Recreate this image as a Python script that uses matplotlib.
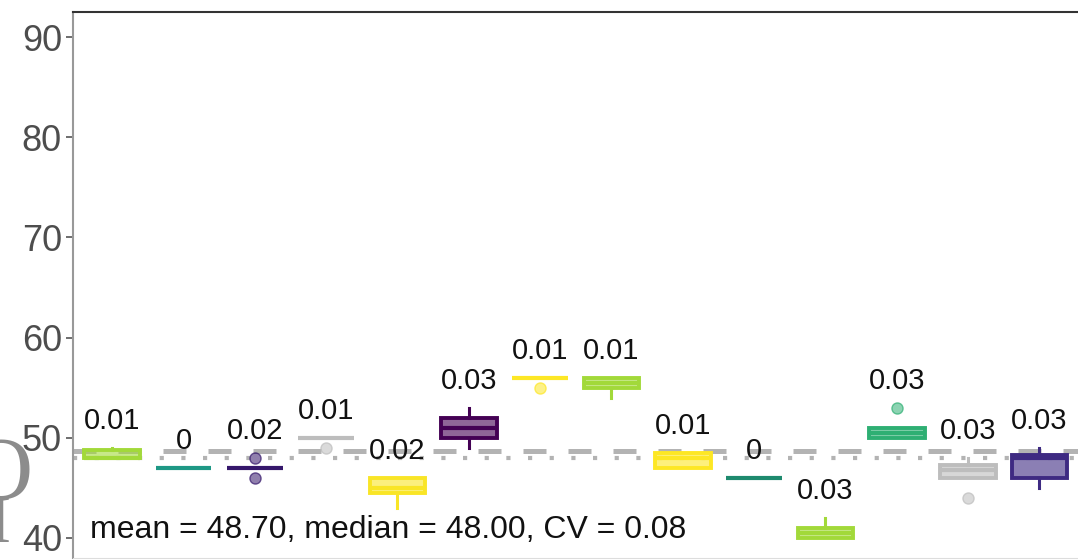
import matplotlib
matplotlib.use("Agg")
import matplotlib.pyplot as plt

plt.rcParams['font.family'] = ['Liberation Sans', 'DejaVu Sans']

# one box per group (summary stats)
positions = list(range(1, 15))
q1 = [48, 47, 47, 50, 44.5, 50, 56, 55, 47, 46, 40, 50, 46, 46]
med = [48, 47, 47, 50, 45, 51, 56, 55.5, 48, 46, 40.5, 50.5, 46.75, 48]
q3 = [48.75, 47, 47, 50, 46, 52, 56, 56, 48.5, 46, 41, 51, 47.25, 48.25]
whislo = [48, 47, 47, 50, 43, 49, 56, 54, 47, 46, 40, 50, 46, 45]
whishi = [49, 47, 47, 50, 46, 53, 56, 56, 48.5, 46, 42, 51, 48, 49]
fliers = [[], [], [48, 46], [49], [], [], [55], [], [], [], [], [53], [44], []]
cv_labels = ['0.01', '0', '0.02', '0.01', '0.02', '0.03', '0.01', '0.01',
             '0.01', '0', '0.03', '0.03', '0.03', '0.03']
colors = ['#a2d93a', '#1e9885', '#35176b', '#bdbdbd', '#f9e526', '#440154', '#fde725',
          '#a2d93a', '#fde725', '#1e8a6e', '#a2d93a', '#2eaf73', '#bdbdbd', '#3e2a82']

overall_mean = 48.70
overall_median = 48.00
overall_cv = 0.08

fig = plt.figure(figsize=(10.78, 5.6), dpi=100)
ax = fig.add_axes([73 / 1078, 2 / 560, 1012 / 1078, 546 / 560])

# reference lines: mean (dashed) and median (dotted)
ax.axhline(overall_mean, color='#b3b3b3', lw=3.6, dashes=(4.6, 4.4), zorder=1)
ax.axhline(overall_median, color='#b3b3b3', lw=3.0, dashes=(1.0, 4.2), zorder=1)

stats = []
for i in range(len(positions)):
    stats.append(dict(q1=q1[i], med=med[i], q3=q3[i], whislo=whislo[i],
                      whishi=whishi[i], fliers=fliers[i]))

art = ax.bxp(stats, positions=positions, widths=0.78, patch_artist=True,
             showcaps=False, zorder=2)
for i, c in enumerate(colors):
    box = art['boxes'][i]
    box.set_facecolor(matplotlib.colors.to_rgba(c, 0.6))
    box.set_edgecolor(c)
    box.set_linewidth(2.8)
    art['medians'][i].set_color(c)
    art['medians'][i].set_linewidth(3.0)
    for w in art['whiskers'][2 * i:2 * i + 2]:
        w.set_color(c)
        w.set_linewidth(2.2)
    f = art['fliers'][i]
    f.set_marker('o')
    f.set_markersize(8)
    f.set_markerfacecolor(matplotlib.colors.to_rgba(c, 0.55))
    f.set_markeredgecolor(matplotlib.colors.to_rgba(c, 0.7))

# CV labels above each box
for i, lab in enumerate(cv_labels):
    top = max([whishi[i]] + fliers[i])
    ax.text(positions[i], top + 1.9, lab, ha='center', va='baseline',
            fontsize=21, color='#111111')

ax.text(0.69, 40.0, "mean = %.2f, median = %.2f, CV = %.2f" % (overall_mean, overall_median, overall_cv),
        ha='left', va='baseline', fontsize=23, color='#111111')

ax.set_xlim(0.45, 14.64)
ax.set_ylim(38.0, 92.5)
ax.set_yticks([40, 50, 60, 70, 80, 90])
ax.set_xticks([])
ax.tick_params(axis='y', labelsize=26, labelcolor='#4d4d4d', color='#555555',
               length=5, width=1.2, pad=3)
ax.spines['left'].set_color('#999999')
ax.spines['left'].set_linewidth(1.5)
ax.spines['top'].set_color('#333333')
ax.spines['top'].set_linewidth(1.5)
ax.spines['bottom'].set_color('#dddddd')
ax.spines['right'].set_visible(False)

# clipped panel letters at the left edge (cut off in the source image too)
fig.text(0.0, 1 - 476 / 560, "O", fontsize=64, family='Liberation Serif',
         color='#8c8c8c', ha='center', va='center', zorder=0)
fig.text(0.0, 1 - 526 / 560, "I", fontsize=48, family='Liberation Serif',
         color='#8c8c8c', ha='center', va='center', zorder=0)

fig.savefig("out.png", dpi=100)
